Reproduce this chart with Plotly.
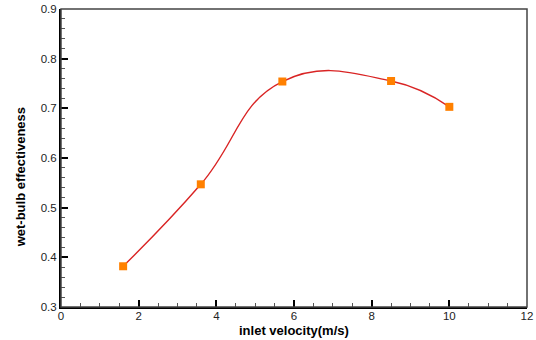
import plotly.graph_objects as go

velocity = [1.6, 3.6, 5.7, 8.5, 10.0]
effectiveness = [0.382, 0.547, 0.754, 0.755, 0.703]

x_ticks = [0, 2, 4, 6, 8, 10, 12]
y_ticks = [0.3, 0.4, 0.5, 0.6, 0.7, 0.8, 0.9]

fig = go.Figure()
fig.add_trace(go.Scatter(
    x=velocity, y=effectiveness, mode="lines",
    line=dict(color="#d92424", width=1.4, shape="spline", smoothing=1.3),
    hoverinfo="skip", showlegend=False))
fig.add_trace(go.Scatter(
    x=velocity, y=effectiveness, mode="markers",
    marker=dict(symbol="square", size=8, color="#ff8000"),
    showlegend=False))

font = dict(family="Liberation Sans, Arial, sans-serif", size=11.5, color="#222")
fig.update_layout(
    width=536, height=340,
    margin=dict(l=61, r=9, t=8.5, b=32.5),
    paper_bgcolor="white", plot_bgcolor="white",
    font=font,
    xaxis=dict(range=[0, 12], tickvals=x_ticks, ticktext=[str(v) for v in x_ticks],
               ticks="inside", ticklen=7, tickwidth=1.5, tickcolor="black",
               ticklabelstandoff=-3,
               minor=dict(dtick=0.5, ticks="inside", ticklen=4, tickwidth=1, tickcolor="#555"),
               showline=True, linecolor="black", linewidth=2, showgrid=False, zeroline=False,
               automargin=False),
    yaxis=dict(range=[0.3, 0.9], tickvals=y_ticks, ticktext=[f"{v:.1f}" for v in y_ticks],
               ticks="inside", ticklen=7, tickwidth=1.5, tickcolor="black",
               minor=dict(dtick=0.02, ticks="inside", ticklen=4, tickwidth=1, tickcolor="#555"),
               showline=True, linecolor="black", linewidth=2, showgrid=False, zeroline=False,
               automargin=False),
    shapes=[dict(type="rect", xref="paper", yref="paper", x0=0, y0=0, x1=1, y1=1,
                 line=dict(color="#444", width=1.5), layer="above")],
    annotations=[
        dict(text="<b>inlet velocity(m/s)</b>", xref="paper", yref="paper",
             x=0.5, y=-0.079, xanchor="center", yanchor="middle", showarrow=False,
             font=dict(size=13, color="black")),
        dict(text="<b>wet-bulb effectiveness</b>", xref="paper", yref="paper",
             x=-0.088, y=0.435, xanchor="center", yanchor="middle", textangle=-90,
             showarrow=False, font=dict(size=13, color="black")),
    ],
)
fig.write_html("out.html", config={"displayModeBar": False},
               post_script="document.body.style.margin='0';document.body.style.overflow='hidden';")
